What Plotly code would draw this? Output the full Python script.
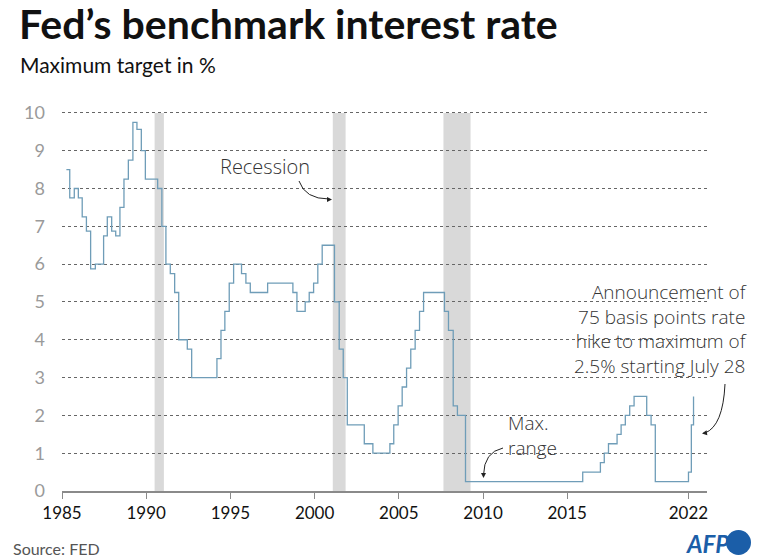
import plotly.graph_objects as go

# ---- data (decimal years, max target rate %) ----
dates = [1985.26, 1985.46, 1985.73, 1985.97, 1986.20, 1986.45, 1986.70, 1986.98,
         1987.47, 1987.69, 1987.95, 1988.19, 1988.44, 1988.68, 1988.94, 1989.21,
         1989.45, 1989.71, 1989.95, 1990.68, 1990.93, 1991.17, 1991.43, 1991.69,
         1991.93, 1992.44, 1992.70, 1994.20, 1994.44, 1994.67, 1994.93, 1995.19,
         1995.66, 1995.92, 1996.18, 1997.21, 1998.71, 1998.95, 1999.44, 1999.68,
         1999.94, 2000.19, 2000.45, 2001.18, 2001.46, 2001.70, 2001.94, 2002.95,
         2003.46, 2004.47, 2004.70, 2004.96, 2005.20, 2005.46, 2005.71, 2005.97,
         2006.23, 2006.47, 2007.71, 2007.95, 2008.23, 2008.48, 2008.96, 2015.92,
         2016.97, 2017.20, 2017.45, 2017.96, 2018.20, 2018.45, 2018.71, 2018.97,
         2019.72, 2019.98, 2020.23, 2022.20, 2022.37, 2022.50]
rates = [8.5, 7.75, 8.0, 7.75, 7.25, 6.875, 5.875, 6.0,
         6.75, 7.25, 6.875, 6.75, 7.5, 8.25, 8.75, 9.75,
         9.5625, 9.0, 8.25, 8.0, 7.0, 6.0, 5.75, 5.25,
         4.0, 3.75, 3.0, 3.5, 4.25, 4.75, 5.5, 6.0,
         5.75, 5.5, 5.25, 5.5, 5.25, 4.75, 5.0, 5.25,
         5.5, 6.0, 6.5, 5.0, 3.75, 3.0, 1.75, 1.25,
         1.0, 1.25, 1.75, 2.25, 2.75, 3.25, 3.75, 4.25,
         4.75, 5.25, 4.75, 4.25, 2.25, 2.0, 0.25, 0.5,
         0.75, 1.0, 1.25, 1.5, 1.75, 2.0, 2.25, 2.5,
         2.0, 1.75, 0.25, 0.5, 1.75, 2.5]

recession_start = [1990.50, 2001.08, 2007.65]
recession_end = [1991.05, 2001.84, 2009.26]

x_tick_vals = [1985, 1990, 1995, 2000, 2005, 2010, 2015, 2022.2]
x_tick_text = ["1985", "1990", "1995", "2000", "2005", "2010", "2015", "2022"]
y_tick_vals = [0, 1, 2, 3, 4, 5, 6, 7, 8, 9, 10]

announcement_lines = ["Announcement of", "75 basis points rate",
                      "hike to maximum of", "2.5% starting July 28"]
max_range_lines = ["Max.", "range"]

# ---- layout geometry (pixels) ----
W, H = 768, 560
L, R, T, B = 62, 707, 111, 491


def px(xp):
    return (xp - L) / (R - L)


def py(yp):
    return (B - yp) / (B - T)


FONT = "Lato, Roboto, 'Noto Sans', sans-serif"
AFONT = "'Open Sans', 'Noto Sans', sans-serif"

fig = go.Figure()
fig.add_trace(go.Scatter(
    x=dates, y=rates, mode="lines", line=dict(color="#6f9db8", width=1.3, shape="hv"),
    hoverinfo="skip", showlegend=False))

shapes = []
for s, e in zip(recession_start, recession_end):
    shapes.append(dict(type="rect", xref="x", yref="y", x0=s, x1=e, y0=0, y1=10,
                       fillcolor="#d9d9d9", line=dict(width=0), layer="below"))

ARROW = "#222222"


def curve(p0, c, p1):
    return dict(type="path", xref="paper", yref="paper",
                path=f"M {px(p0[0])},{py(p0[1])} Q {px(c[0])},{py(c[1])} {px(p1[0])},{py(p1[1])}",
                line=dict(color=ARROW, width=1))


shapes.append(curve((299, 181), (305, 199), (329, 199)))
shapes.append(curve((503, 448), (484, 452), (483.5, 475)))
shapes.append(curve((725, 384), (723, 426), (705, 433)))

# AFP logo circle
shapes.append(dict(type="circle", xref="paper", yref="paper",
                   x0=px(726), x1=px(751), y0=py(555), y1=py(530),
                   fillcolor="#1b5ea8", line=dict(width=0)))

annotations = []


def head(x, y, dx, dy):
    annotations.append(dict(xref="paper", yref="paper", x=px(x), y=py(y), text="",
                            showarrow=True, axref="pixel", ayref="pixel", ax=dx, ay=dy,
                            arrowhead=2, arrowsize=1, arrowwidth=1, arrowcolor=ARROW))


head(332, 199.5, -6, 0)
head(483.5, 478, 0, -6)
head(702, 433.5, 6, -1)

ann_font = dict(family=AFONT, size=19, color="#333333", weight=300)

annotations += [
    dict(xref="paper", yref="paper", x=px(17), y=py(-3), xanchor="left", yanchor="top",
         text="<b>Fed’s benchmark interest rate</b>", showarrow=False,
         font=dict(family=FONT, size=41, color="#111111")),
    dict(xref="paper", yref="paper", x=px(18), y=py(50), xanchor="left", yanchor="top",
         text="Maximum target in %", showarrow=False,
         font=dict(family=FONT, size=21, color="#111111")),
    dict(xref="paper", yref="paper", x=px(264.5), y=py(166), xanchor="center", yanchor="middle",
         text="Recession", showarrow=False, font=dict(ann_font, size=20)),
    dict(xref="paper", yref="paper", x=px(11), y=py(537), xanchor="left", yanchor="top",
         text="Source: FED", showarrow=False,
         font=dict(family=FONT, size=16, color="#555555")),
    dict(xref="paper", yref="paper", x=px(731), y=py(527), xanchor="right", yanchor="top",
         text="<b><i>AFP</i></b>", showarrow=False,
         font=dict(family=FONT, size=24, color="#1b5ea8")),
    dict(xref="paper", yref="paper", x=px(749), y=py(329), xanchor="right", yanchor="middle",
         text="<br>".join(announcement_lines), align="right",
         showarrow=False, font=ann_font),
    dict(xref="paper", yref="paper", x=px(506), y=py(435), xanchor="left", yanchor="middle",
         text="<br>".join(max_range_lines), align="left",
         showarrow=False, font=ann_font),
]

fig.update_layout(
    width=W, height=H,
    margin=dict(l=L, r=W - R, t=T, b=H - B, pad=0),
    paper_bgcolor="white", plot_bgcolor="white",
    shapes=shapes, annotations=annotations, showlegend=False,
    xaxis=dict(range=[1985, 2023.3], tickvals=x_tick_vals, ticktext=x_tick_text,
               showgrid=False, zeroline=False, showline=True, linecolor="#8a8a8a", linewidth=1.5,
               ticks="outside", ticklen=6, tickcolor="#8a8a8a", tickwidth=1,
               tickfont=dict(family=FONT, size=17, color="#111111")),
    yaxis=dict(range=[0, 10.05], tickvals=y_tick_vals, showgrid=True, gridcolor="#666666",
               griddash="dot", gridwidth=1, zeroline=False, showline=False, ticks="",
               ticklabelstandoff=16,
               tickfont=dict(family=FONT, size=18, color="#9a9a9a")),
)

fig.write_html("out.html", config={"displayModeBar": False},
               post_script="document.body.style.margin='0';document.body.style.padding='0';")
